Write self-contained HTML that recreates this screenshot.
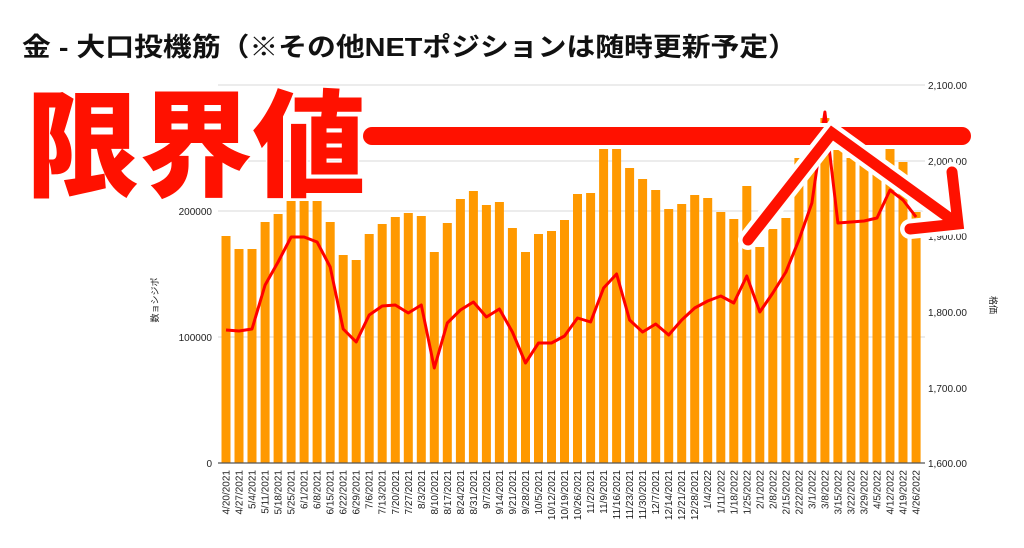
<!DOCTYPE html>
<html><head><meta charset="utf-8"><style>
html,body{margin:0;padding:0;background:#fff;width:1024px;height:548px;overflow:hidden}
svg{display:block}
.lb{font-family:"Liberation Sans",sans-serif;font-size:10px;fill:#222}
</style></head><body>
<svg width="1024" height="548" viewBox="0 0 1024 548" xmlns="http://www.w3.org/2000/svg">
<rect width="1024" height="548" fill="#fff"/>
<text x="22" y="56" font-family="'Liberation Sans','Noto Sans CJK JP',sans-serif" font-size="26" font-weight="bold" fill="#111" textLength="775" lengthAdjust="spacingAndGlyphs">金 - 大口投機筋（※その他NETポジションは随時更新予定）</text>
<g stroke="#d8d8d8" stroke-width="1">
<line x1="218" y1="85" x2="925" y2="85"/><line x1="218" y1="161" x2="925" y2="161"/>
<line x1="218" y1="211" x2="925" y2="211"/><line x1="218" y1="337" x2="925" y2="337"/>
</g>
<g class="lb" text-anchor="end">
<text x="212" y="215">200000</text><text x="212" y="341">100000</text><text x="212" y="467">0</text>
</g>
<g class="lb">
<text x="928" y="89">2,100.00</text><text x="928" y="165">2,000.00</text><text x="928" y="240">1,900.00</text><text x="928" y="316">1,800.00</text><text x="928" y="392">1,700.00</text><text x="928" y="467">1,600.00</text>
</g>
<text transform="translate(158,300) rotate(-90)" text-anchor="middle" font-family="'Liberation Sans','Noto Sans CJK JP',sans-serif" font-size="9" fill="#222">数ョシジポ</text>
<text transform="translate(990,305) rotate(90)" text-anchor="middle" font-family="'Liberation Sans','Noto Sans CJK JP',sans-serif" font-size="9" fill="#222">格価</text>
<g fill="#ff9900">
<rect x="221.5" y="236" width="9" height="227"/><rect x="234.5" y="249" width="9" height="214"/><rect x="247.5" y="249" width="9" height="214"/><rect x="260.6" y="222" width="9" height="241"/><rect x="273.6" y="214" width="9" height="249"/><rect x="286.6" y="201" width="9" height="262"/><rect x="299.6" y="201" width="9" height="262"/><rect x="312.6" y="201" width="9" height="262"/><rect x="325.7" y="222" width="9" height="241"/><rect x="338.7" y="255" width="9" height="208"/><rect x="351.7" y="260" width="9" height="203"/><rect x="364.7" y="234" width="9" height="229"/><rect x="377.7" y="224" width="9" height="239"/><rect x="390.8" y="217" width="9" height="246"/><rect x="403.8" y="213" width="9" height="250"/><rect x="416.8" y="216" width="9" height="247"/><rect x="429.8" y="252" width="9" height="211"/><rect x="442.8" y="223" width="9" height="240"/><rect x="455.9" y="199" width="9" height="264"/><rect x="468.9" y="191" width="9" height="272"/><rect x="481.9" y="205" width="9" height="258"/><rect x="494.9" y="202" width="9" height="261"/><rect x="507.9" y="228" width="9" height="235"/><rect x="521" y="252" width="9" height="211"/><rect x="534" y="234" width="9" height="229"/><rect x="547" y="231" width="9" height="232"/><rect x="560" y="220" width="9" height="243"/><rect x="573" y="194" width="9" height="269"/><rect x="586.1" y="193" width="9" height="270"/><rect x="599.1" y="148" width="9" height="315"/><rect x="612.1" y="148" width="9" height="315"/><rect x="625.1" y="168" width="9" height="295"/><rect x="638.1" y="179" width="9" height="284"/><rect x="651.2" y="190" width="9" height="273"/><rect x="664.2" y="209" width="9" height="254"/><rect x="677.2" y="204" width="9" height="259"/><rect x="690.2" y="195" width="9" height="268"/><rect x="703.2" y="198" width="9" height="265"/><rect x="716.3" y="212" width="9" height="251"/><rect x="729.3" y="219" width="9" height="244"/><rect x="742.3" y="186" width="9" height="277"/><rect x="755.3" y="247" width="9" height="216"/><rect x="768.3" y="229" width="9" height="234"/><rect x="781.4" y="218" width="9" height="245"/><rect x="794.4" y="158" width="9" height="305"/><rect x="807.4" y="148" width="9" height="315"/><rect x="820.4" y="118" width="9" height="345"/><rect x="833.4" y="150" width="9" height="313"/><rect x="846.5" y="158" width="9" height="305"/><rect x="859.5" y="165" width="9" height="298"/><rect x="872.5" y="173" width="9" height="290"/><rect x="885.5" y="145" width="9" height="318"/><rect x="898.5" y="162" width="9" height="301"/><rect x="911.6" y="212" width="9" height="251"/>
</g>
<line x1="218" y1="463" x2="925" y2="463" stroke="#555" stroke-width="1.2"/>
<polyline fill="none" stroke="#ff0000" stroke-width="3" stroke-linejoin="round" points="226,330 239,331 252,329 265.1,285 278.1,262 291.1,237 304.1,237 317.1,242 330.2,267 343.2,329 356.2,342 369.2,315 382.2,306 395.3,305 408.3,313 421.3,305 434.3,368 447.3,323 460.4,310 473.4,302 486.4,317 499.4,309 512.4,332 525.5,363 538.5,343 551.5,343 564.5,336 577.5,318 590.6,322 603.6,288 616.6,274 629.6,320 642.6,332 655.7,324 668.7,335 681.7,320 694.7,308 707.7,301 720.8,296 733.8,303 746.8,276 759.8,312 772.8,293 785.9,272 798.9,240 811.9,203 824.9,112 837.9,223 851,222 864,221 877,218 890,190 903,200 916.1,217"/>
<g class="lb">
<text transform="translate(229.5,470) rotate(-90)" text-anchor="end">4/20/2021</text><text transform="translate(242.5,470) rotate(-90)" text-anchor="end">4/27/2021</text><text transform="translate(255.5,470) rotate(-90)" text-anchor="end">5/4/2021</text><text transform="translate(268.6,470) rotate(-90)" text-anchor="end">5/11/2021</text><text transform="translate(281.6,470) rotate(-90)" text-anchor="end">5/18/2021</text><text transform="translate(294.6,470) rotate(-90)" text-anchor="end">5/25/2021</text><text transform="translate(307.6,470) rotate(-90)" text-anchor="end">6/1/2021</text><text transform="translate(320.6,470) rotate(-90)" text-anchor="end">6/8/2021</text><text transform="translate(333.7,470) rotate(-90)" text-anchor="end">6/15/2021</text><text transform="translate(346.7,470) rotate(-90)" text-anchor="end">6/22/2021</text><text transform="translate(359.7,470) rotate(-90)" text-anchor="end">6/29/2021</text><text transform="translate(372.7,470) rotate(-90)" text-anchor="end">7/6/2021</text><text transform="translate(385.7,470) rotate(-90)" text-anchor="end">7/13/2021</text><text transform="translate(398.8,470) rotate(-90)" text-anchor="end">7/20/2021</text><text transform="translate(411.8,470) rotate(-90)" text-anchor="end">7/27/2021</text><text transform="translate(424.8,470) rotate(-90)" text-anchor="end">8/3/2021</text><text transform="translate(437.8,470) rotate(-90)" text-anchor="end">8/10/2021</text><text transform="translate(450.8,470) rotate(-90)" text-anchor="end">8/17/2021</text><text transform="translate(463.9,470) rotate(-90)" text-anchor="end">8/24/2021</text><text transform="translate(476.9,470) rotate(-90)" text-anchor="end">8/31/2021</text><text transform="translate(489.9,470) rotate(-90)" text-anchor="end">9/7/2021</text><text transform="translate(502.9,470) rotate(-90)" text-anchor="end">9/14/2021</text><text transform="translate(515.9,470) rotate(-90)" text-anchor="end">9/21/2021</text><text transform="translate(529,470) rotate(-90)" text-anchor="end">9/28/2021</text><text transform="translate(542,470) rotate(-90)" text-anchor="end">10/5/2021</text><text transform="translate(555,470) rotate(-90)" text-anchor="end">10/12/2021</text><text transform="translate(568,470) rotate(-90)" text-anchor="end">10/19/2021</text><text transform="translate(581,470) rotate(-90)" text-anchor="end">10/26/2021</text><text transform="translate(594.1,470) rotate(-90)" text-anchor="end">11/2/2021</text><text transform="translate(607.1,470) rotate(-90)" text-anchor="end">11/9/2021</text><text transform="translate(620.1,470) rotate(-90)" text-anchor="end">11/16/2021</text><text transform="translate(633.1,470) rotate(-90)" text-anchor="end">11/23/2021</text><text transform="translate(646.1,470) rotate(-90)" text-anchor="end">11/30/2021</text><text transform="translate(659.2,470) rotate(-90)" text-anchor="end">12/7/2021</text><text transform="translate(672.2,470) rotate(-90)" text-anchor="end">12/14/2021</text><text transform="translate(685.2,470) rotate(-90)" text-anchor="end">12/21/2021</text><text transform="translate(698.2,470) rotate(-90)" text-anchor="end">12/28/2021</text><text transform="translate(711.2,470) rotate(-90)" text-anchor="end">1/4/2022</text><text transform="translate(724.3,470) rotate(-90)" text-anchor="end">1/11/2022</text><text transform="translate(737.3,470) rotate(-90)" text-anchor="end">1/18/2022</text><text transform="translate(750.3,470) rotate(-90)" text-anchor="end">1/25/2022</text><text transform="translate(763.3,470) rotate(-90)" text-anchor="end">2/1/2022</text><text transform="translate(776.3,470) rotate(-90)" text-anchor="end">2/8/2022</text><text transform="translate(789.4,470) rotate(-90)" text-anchor="end">2/15/2022</text><text transform="translate(802.4,470) rotate(-90)" text-anchor="end">2/22/2022</text><text transform="translate(815.4,470) rotate(-90)" text-anchor="end">3/1/2022</text><text transform="translate(828.4,470) rotate(-90)" text-anchor="end">3/8/2022</text><text transform="translate(841.4,470) rotate(-90)" text-anchor="end">3/15/2022</text><text transform="translate(854.5,470) rotate(-90)" text-anchor="end">3/22/2022</text><text transform="translate(867.5,470) rotate(-90)" text-anchor="end">3/29/2022</text><text transform="translate(880.5,470) rotate(-90)" text-anchor="end">4/5/2022</text><text transform="translate(893.5,470) rotate(-90)" text-anchor="end">4/12/2022</text><text transform="translate(906.5,470) rotate(-90)" text-anchor="end">4/19/2022</text><text transform="translate(919.6,470) rotate(-90)" text-anchor="end">4/26/2022</text>
</g>
<!-- annotations -->
<line x1="372" y1="136" x2="962" y2="136" stroke="#fff" stroke-width="26" stroke-linecap="round"/>
<line x1="372" y1="136" x2="962" y2="136" stroke="#ff1100" stroke-width="18" stroke-linecap="round"/>
<text x="26" y="187" font-family="'Noto Sans CJK JP','WenQuanYi Zen Hei',sans-serif" font-size="116" font-weight="900" fill="#ff1100" stroke="#fff" stroke-width="3" paint-order="stroke" textLength="340" lengthAdjust="spacingAndGlyphs">限界値</text>
<g fill="none" stroke-linecap="round" stroke-linejoin="miter">
<polyline points="748,240 832,133 955,222" stroke="#fff" stroke-width="20"/>
<polyline points="952,172 958,224 910,229" stroke="#fff" stroke-width="20"/>
<polyline points="748,240 832,133 955,222" stroke="#ff1100" stroke-width="11"/>
<polyline points="952,172 958,224 910,229" stroke="#ff1100" stroke-width="11"/>
</g>
</svg>
</body></html>
